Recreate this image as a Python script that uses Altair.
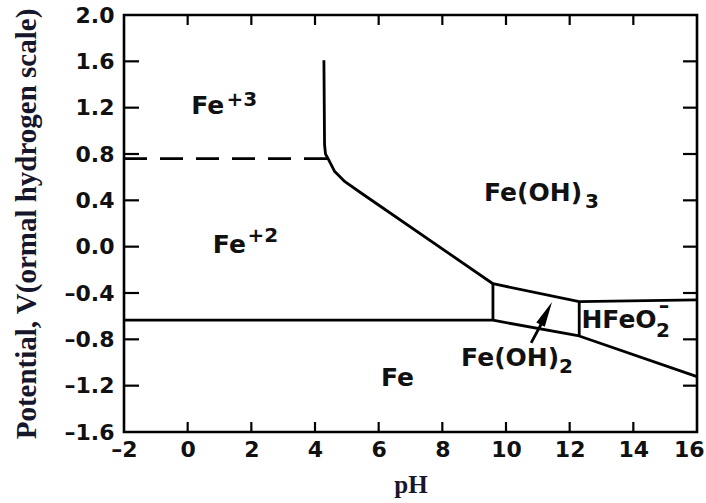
import altair as alt
import pandas as pd

# ---------------- data ----------------
ph_ticks = [-2, 0, 2, 4, 6, 8, 10, 12, 14, 16]
v_ticks = [-1.6, -1.2, -0.8, -0.4, 0.0, 0.4, 0.8, 1.2, 1.6, 2.0]
inner_ph_ticks = [0, 2, 4, 6, 8, 10, 12, 14]
inner_v_ticks = [-1.2, -0.8, -0.4, 0.0, 0.4, 0.8, 1.2, 1.6]

# solid phase boundaries (pH, V)
b_fe3_curve_ph = [4.28, 4.30, 4.33, 4.41, 4.62, 4.94, 5.46, 9.59]
b_fe3_curve_v = [1.61, 0.88, 0.80, 0.76, 0.648, 0.561, 0.461, -0.32]
b_fe_fe2_ph = [-2, 9.59]
b_fe_fe2_v = [-0.635, -0.635]
b_vert1_ph = [9.59, 9.59]
b_vert1_v = [-0.32, -0.635]
b_feoh3_ph = [9.59, 12.30, 16]
b_feoh3_v = [-0.32, -0.475, -0.46]
b_vert2_ph = [12.30, 12.30]
b_vert2_v = [-0.475, -0.771]
b_fe_low_ph = [9.59, 12.30, 16]
b_fe_low_v = [-0.635, -0.771, -1.122]

# dashed Fe+3 / Fe+2 boundary
dash_ph = [-2, 4.41]
dash_v = [0.76, 0.76]

# region labels
lab_text = ["Fe", "+3", "Fe", "+2", "Fe(OH)", "3", "HFeO", "2", "\u2013", "Fe(OH)", "2", "Fe"]
lab_ph = [0.63, 1.70, 1.31, 2.36, 10.85, 12.70, 13.55, 14.93, 14.96, 10.13, 11.88, 6.59]
lab_v = [1.211, 1.267, 0.015, 0.088, 0.464, 0.385, -0.633, -0.73, -0.525, -0.965, -1.035, -1.134]
lab_fs = [25, 20, 25, 20, 25, 20, 25, 20, 21, 25, 20, 25]

# arrow to the Fe(OH)2 field
arrow_ph = [10.79, 11.20]
arrow_v = [-0.831, -0.62]
head_ph = [11.22]
head_v = [-0.60]

# ---------------- build tables ----------------
segs = [
    ("a", b_fe3_curve_ph, b_fe3_curve_v),
    ("b", b_fe_fe2_ph, b_fe_fe2_v),
    ("c", b_vert1_ph, b_vert1_v),
    ("d", b_feoh3_ph, b_feoh3_v),
    ("e", b_vert2_ph, b_vert2_v),
    ("f", b_fe_low_ph, b_fe_low_v),
    ("g", arrow_ph, arrow_v),
]
rows = []
for name, xs, ys in segs:
    for i, (x, y) in enumerate(zip(xs, ys)):
        rows.append({"seg": name, "o": i, "pH": x, "V": y})
lines_df = pd.DataFrame(rows)
dash_df = pd.DataFrame({"pH": dash_ph, "V": dash_v, "o": [0, 1]})
labels_df = pd.DataFrame({"t": lab_text, "pH": lab_ph, "V": lab_v, "fs": lab_fs})
head_df = pd.DataFrame({"pH": head_ph, "V": head_v})
ph_tick_df = pd.DataFrame({"pH": inner_ph_ticks})
v_tick_df = pd.DataFrame({"V": inner_v_ticks})

W, H = 573, 417
xscale = alt.Scale(domain=[-2, 16], nice=False, zero=False)
yscale = alt.Scale(domain=[-1.6, 2.0], nice=False, zero=False)

label_font = "DejaVu Sans"
title_color = "#16162c"

x_axis = alt.Axis(
    values=ph_ticks, ticks=False, grid=False, domain=False,
    labelFont=label_font, labelFontWeight="bold", labelFontSize=22,
    labelColor="#111111", labelPadding=7, labelFlush=False,
    labelAlign={"condition": {"test": "datum.value == 16", "value": "right"}, "value": "center"},
    labelOffset={"condition": {"test": "datum.value == 16", "value": 7}, "value": 0},
    labelExpr="datum.value < 0 ? '\u2013' + format(abs(datum.value), 'd') : format(datum.value, 'd')",
    title="pH", titleFont="Liberation Serif", titleFontWeight="bold",
    titleFontSize=25, titleColor=title_color, titleBaseline="alphabetic", titleY=60,
)
y_axis = alt.Axis(
    values=v_ticks, ticks=False, grid=False, domain=False,
    labelFont=label_font, labelFontWeight="bold", labelFontSize=22,
    labelColor="#111111", labelPadding=10, labelFlush=False,
    labelExpr="datum.value < 0 ? '\u2013' + format(abs(datum.value), '.1f') : format(datum.value, '.1f')",
    title="Potential, V(ormal hydrogen scale)", titleFont="Liberation Serif",
    titleFontWeight="bold", titleFontSize=29, titleColor=title_color,
    titleAngle=270, titleAlign="center", titleBaseline="alphabetic",
    titleX=-89, titleY=H / 2,
)

X = alt.X("pH:Q", scale=xscale, axis=x_axis)
Y = alt.Y("V:Q", scale=yscale, axis=y_axis)

lines = alt.Chart(lines_df).mark_line(color="black", strokeWidth=2.8, strokeJoin="round").encode(
    x=X, y=Y, detail="seg:N", order="o:Q",
)
dashed = alt.Chart(dash_df).mark_line(color="black", strokeWidth=2.8, strokeDash=[23, 13]).encode(
    x=X, y=Y, order="o:Q",
)
head = alt.Chart(head_df).mark_point(
    shape="M0,-1L0.3,0.6L-0.3,0.6Z", filled=True, color="black", opacity=1, size=1000, angle=27
).encode(x=X, y=Y)
labels = alt.Chart(labels_df).mark_text(
    font=label_font, fontWeight="bold", color="#111111", align="center", baseline="middle"
).encode(
    x=X, y=Y,
    text="t:N",
    size=alt.Size("fs:Q", scale=None, legend=None),
)

tick_style = dict(color="black", strokeWidth=2.2)
t_bottom = alt.Chart(ph_tick_df).mark_rule(**tick_style).encode(
    x=X, y=alt.value(H), y2=alt.value(H - 10))
t_top = alt.Chart(ph_tick_df).mark_rule(**tick_style).encode(
    x=X, y=alt.value(0), y2=alt.value(10))
t_left = alt.Chart(v_tick_df).mark_rule(**tick_style).encode(
    y=Y, x=alt.value(0), x2=alt.value(15))
t_right = alt.Chart(v_tick_df).mark_rule(**tick_style).encode(
    y=Y, x=alt.value(W), x2=alt.value(W - 14))

chart = alt.layer(lines, dashed, head, labels, t_bottom, t_top, t_left, t_right).properties(
    width=W, height=H,
    autosize=alt.AutoSizeParams(type="none"),
    padding={"left": 124, "top": 15, "right": 9, "bottom": 71},
    background="white",
).configure_view(stroke="black", strokeWidth=2.6)

chart.save("out.html", embed_options={"renderer": "svg", "actions": False})
